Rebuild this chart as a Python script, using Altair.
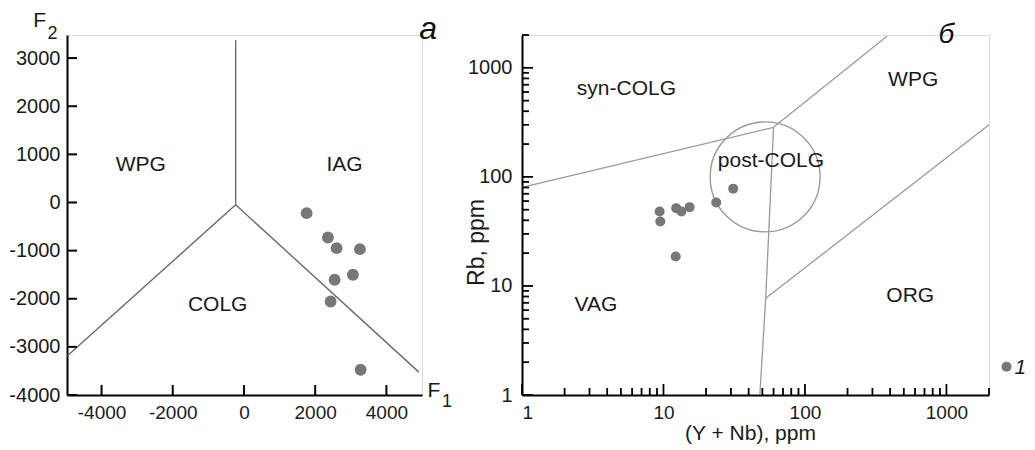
import altair as alt
import pandas as pd

FONT = "Liberation Sans"

# ---------------- Panel a: F1-F2 diagram ----------------
a_f1 = [1760, 2358, 2602, 3256, 2546, 3060, 2434, 3276]
a_f2 = [-222, -727, -949, -970, -1606, -1502, -2057, -3475]

a_seg = ["v", "v", "l", "l", "r", "r"]
a_seg_x = [-233, -233, -233, -4957, -233, 4912]
a_seg_y = [3374, -48, -48, -3184, -48, -3525]
a_seg_i = [0, 1, 0, 1, 0, 1]

a_lab = ["WPG", "IAG", "COLG"]
a_lab_x = [-2900, 2827, -738]
a_lab_y = [644, 644, -2264]

a_xticks = [-4000, -2000, 0, 2000, 4000]
a_yticks = [-4000, -3000, -2000, -1000, 0, 1000, 2000, 3000]

# axis-name annotations (F with subscript) and panel letter
a_ann = ["F", "2", "F", "1"]
a_ann_x = [-5740, -5377, 5333, 5704]
a_ann_y = [3644, 3401, -4042, -4249]
a_ann_size = [21, 18, 21, 18]
a_letter = ["а"]
a_letter_x = [5170]
a_letter_y = [3401]

# ---------------- Panel б: Rb vs (Y+Nb) ----------------
b_ynb = [9.4, 9.5, 12.3, 13.4, 15.3, 23.6, 31.1, 12.2]
b_rb = [48.2, 39, 51.7, 48.2, 52.8, 58.3, 78, 18.6]

b_seg = ["A", "A", "B", "B", "C", "C", "C", "D", "D"]
b_seg_x = [1, 60, 60, 380, 60, 52.8, 48, 52.8, 2000]
b_seg_y = [80, 285, 285, 1950, 285, 7.7, 1, 7.7, 300]
b_seg_i = [0, 1, 0, 1, 0, 1, 2, 0, 1]

b_circle_x = [52.3]
b_circle_y = [100]

b_lab = ["syn-COLG", "post-COLG", "WPG", "ORG", "VAG"]
b_lab_x = [5.47, 57.5, 582, 555, 3.33]
b_lab_y = [569, 123, 688, 7.19, 5.94]

b_major = [1, 10, 100, 1000]
b_minor = [2, 3, 4, 5, 6, 7, 8, 9, 20, 30, 40, 50, 60, 70, 80, 90,
           200, 300, 400, 500, 600, 700, 800, 900, 2000]

b_legend_label = ["1"]
b_legend_x = [2661]
b_legend_y = [1.82]
b_legend_tx = [3031]
b_legend_ty = [1.57]
b_letter = ["б"]
b_letter_x = [1000]
b_letter_y = [1694]

PT = "#777777"
TXT = "#1a1a1a"

# ---------------- build panel a ----------------
lx = alt.Scale(domain=[-4970, 5000], nice=False, zero=False)
ly = alt.Scale(domain=[-4000, 3480], nice=False, zero=False)

common_axis = dict(domainColor="black", domainWidth=2, ticks=False,
                   labelFont=FONT, labelColor=TXT, grid=False,
                   labelExpr="'' + datum.value")

ax_a_x = alt.Axis(values=a_xticks, labelPadding=8, labelFontSize=19, title=None, **common_axis)
ax_a_y = alt.Axis(values=a_yticks, labelPadding=7, labelFontSize=20, title=None, **common_axis)

df_a_pts = pd.DataFrame({"x": a_f1, "y": a_f2})
df_a_seg = pd.DataFrame({"seg": a_seg, "x": a_seg_x, "y": a_seg_y, "i": a_seg_i})
df_a_lab = pd.DataFrame({"t": a_lab, "x": a_lab_x, "y": a_lab_y})
df_a_ann = pd.DataFrame({"t": a_ann, "x": a_ann_x, "y": a_ann_y, "s": a_ann_size})
df_a_let = pd.DataFrame({"t": a_letter, "x": a_letter_x, "y": a_letter_y})
df_a_xt = pd.DataFrame({"x": a_xticks, "y": [-4000] * len(a_xticks)})
df_a_yt = pd.DataFrame({"y": a_yticks, "x": [-4970] * len(a_yticks)})

ax_enc = alt.X("x:Q", scale=lx, axis=ax_a_x)
ay_enc = alt.Y("y:Q", scale=ly, axis=ax_a_y)

a_lines = alt.Chart(df_a_seg).mark_line(color="#6a6a6a", strokeWidth=1.4).encode(
    x=ax_enc, y=ay_enc, detail="seg:N", order="i:Q")
a_points = alt.Chart(df_a_pts).mark_circle(size=140, color=PT, opacity=1).encode(
    x=ax_enc, y=ay_enc)
a_text = alt.Chart(df_a_lab).mark_text(font=FONT, fontSize=21, color=TXT,
                                        baseline="alphabetic", align="center").encode(
    x=ax_enc, y=ay_enc, text="t:N")
a_ann_l = alt.Chart(df_a_ann).mark_text(font=FONT, color=TXT,
                                        baseline="alphabetic", align="center").encode(
    x=ax_enc, y=ay_enc, text="t:N", size=alt.Size("s:Q", scale=None, legend=None))
a_let_l = alt.Chart(df_a_let).mark_text(font=FONT, fontSize=32, fontStyle="italic",
                                        color="#111", baseline="alphabetic",
                                        align="center").encode(
    x=ax_enc, y=ay_enc, text="t:N")
a_xt_l = alt.Chart(df_a_xt).mark_tick(orient="vertical", size=10, thickness=2,
                                      color="black", yOffset=-5, opacity=1).encode(
    x=ax_enc, y=ay_enc)
a_yt_l = alt.Chart(df_a_yt).mark_tick(orient="horizontal", size=10, thickness=2,
                                      color="black", xOffset=5, opacity=1).encode(
    x=ax_enc, y=ay_enc)

left = alt.layer(a_lines, a_points, a_text, a_ann_l, a_let_l, a_xt_l, a_yt_l).properties(
    width=355, height=360)

# ---------------- build panel б ----------------
rx = alt.Scale(type="log", domain=[1, 2000], nice=False)
ry = alt.Scale(type="log", domain=[1, 2000], nice=False)

ax_b_x = alt.Axis(values=b_major, labelPadding=8, labelFontSize=19,
                  title="(Y + Nb), ppm", titleFont=FONT, titleFontSize=21,
                  titleFontWeight="normal", titleColor=TXT, titleX=228, titleY=44,
                  titleBaseline="alphabetic", titleAlign="center", **common_axis)
ax_b_y = alt.Axis(values=b_major, labelPadding=10, labelFontSize=20,
                  title="Rb, ppm", titleFont=FONT, titleFontSize=23,
                  titleFontWeight="normal", titleColor=TXT, titleX=-46, titleY=207,
                  titleBaseline="middle", titleAlign="center", titleAngle=270, **common_axis)

bx_enc = alt.X("x:Q", scale=rx, axis=ax_b_x)
by_enc = alt.Y("y:Q", scale=ry, axis=ax_b_y)

df_b_pts = pd.DataFrame({"x": b_ynb, "y": b_rb})
df_b_seg = pd.DataFrame({"seg": b_seg, "x": b_seg_x, "y": b_seg_y, "i": b_seg_i})
df_b_circ = pd.DataFrame({"x": b_circle_x, "y": b_circle_y})
df_b_lab = pd.DataFrame({"t": b_lab, "x": b_lab_x, "y": b_lab_y})
df_b_minor = pd.DataFrame({"v": b_minor, "base": [1] * len(b_minor)})
df_b_major = pd.DataFrame({"v": b_major, "base": [1] * len(b_major)})
df_b_leg = pd.DataFrame({"t": b_legend_label, "x": b_legend_x, "y": b_legend_y,
                         "tx": b_legend_tx, "ty": b_legend_ty})
df_b_let = pd.DataFrame({"t": b_letter, "x": b_letter_x, "y": b_letter_y})

b_lines = alt.Chart(df_b_seg).mark_line(color="#9a9a9a", strokeWidth=1.3).encode(
    x=bx_enc, y=by_enc, detail="seg:N", order="i:Q")
b_circle = alt.Chart(df_b_circ).mark_point(shape="circle", filled=False, size=12076,
                                           color="#9a9a9a", strokeWidth=1.4, opacity=1).encode(
    x=bx_enc, y=by_enc)
b_points = alt.Chart(df_b_pts).mark_circle(size=100, color=PT, opacity=1).encode(
    x=bx_enc, y=by_enc)
b_text = alt.Chart(df_b_lab).mark_text(font=FONT, fontSize=21, color=TXT,
                                        baseline="alphabetic", align="center").encode(
    x=bx_enc, y=by_enc, text="t:N")


def xticks(df, size):
    return alt.Chart(df).mark_tick(orient="vertical", size=size, thickness=1.8,
                                   color="black", yOffset=-size / 2, opacity=1).encode(
        x=alt.X("v:Q", scale=rx, axis=ax_b_x), y=alt.Y("base:Q", scale=ry, axis=ax_b_y))


def yticks(df, size):
    return alt.Chart(df).mark_tick(orient="horizontal", size=size, thickness=1.8,
                                   color="black", xOffset=size / 2, opacity=1).encode(
        x=alt.X("base:Q", scale=rx, axis=ax_b_x), y=alt.Y("v:Q", scale=ry, axis=ax_b_y))


b_leg_pt = alt.Chart(df_b_leg).mark_circle(size=100, color=PT, opacity=1).encode(
    x=bx_enc, y=by_enc)
b_leg_tx = alt.Chart(df_b_leg).mark_text(font=FONT, fontSize=21, fontStyle="italic",
                                         color=TXT, baseline="alphabetic",
                                         align="left").encode(
    x=alt.X("tx:Q", scale=rx, axis=ax_b_x), y=alt.Y("ty:Q", scale=ry, axis=ax_b_y), text="t:N")
b_let_l = alt.Chart(df_b_let).mark_text(font=FONT, fontSize=28, fontStyle="italic",
                                        color="#111", baseline="alphabetic",
                                        align="center").encode(
    x=bx_enc, y=by_enc, text="t:N")

right = alt.layer(b_lines, b_circle, b_points, b_text,
                  xticks(df_b_minor, 7), yticks(df_b_minor, 7),
                  xticks(df_b_major, 11), yticks(df_b_major, 11),
                  b_leg_pt, b_leg_tx, b_let_l).properties(width=467, height=360)

chart = alt.hconcat(left, right, spacing=100, bounds="flush").properties(
    padding={"left": 0, "top": 1, "right": 0, "bottom": 0}
).configure_view(strokeWidth=0).configure(background="white")

chart.save("out.html", embed_options={"renderer": "svg", "actions": False})
